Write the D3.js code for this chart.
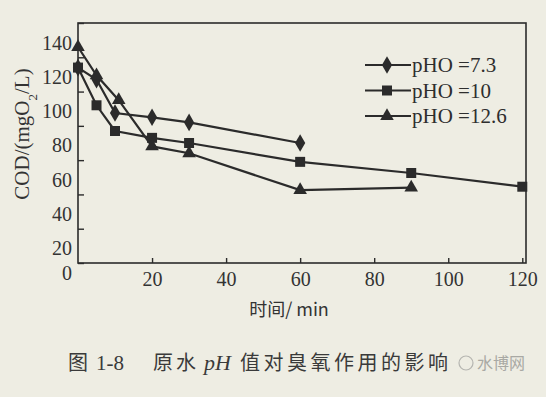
<!DOCTYPE html>
<html>
<head>
<meta charset="utf-8">
<script src="https://cdnjs.cloudflare.com/ajax/libs/d3/7.8.5/d3.min.js"></script>
<style>
  body { margin: 0; background: #eeede3; }
  svg { display: block; }
</style>
</head>
<body>
<svg id="chart" width="546" height="397"></svg>
<script>
// data
var t_73 = [0, 5, 10, 20, 30, 60];
var cod_73 = [114, 107, 87.5, 85, 82, 70];
var t_10 = [0, 5, 10, 20, 30, 60, 90, 120];
var cod_10 = [114, 92, 77, 73, 70, 59, 52.5, 44.5];
var t_126 = [0, 5, 11, 20, 30, 60, 90];
var cod_126 = [126, 109.5, 95, 68, 64, 42.5, 44];
var seriesNames = ["pHO =7.3", "pHO =10", "pHO =12.6"];
var xTicks = [20, 40, 60, 80, 100, 120];
var yTicks = [0, 20, 40, 60, 80, 100, 120, 140];

var svg = d3.select("#chart");
var ink = "#2b2b2b";

var mLeft = 78, mRight = 526, mTop = 23, mBottom = 263;

var x = d3.scaleLinear().domain([0, 121]).range([mLeft, mRight]);
var y = d3.scaleLinear().domain([0, 140]).range([mBottom, mTop]);

// frame
svg.append("rect")
  .attr("x", mLeft).attr("y", mTop)
  .attr("width", mRight - mLeft).attr("height", mBottom - mTop)
  .attr("fill", "none").attr("stroke", ink).attr("stroke-width", 1.6);

// x axis (ticks point inward)
var xAxis = svg.append("g")
  .attr("transform", "translate(0," + mBottom + ")")
  .call(d3.axisBottom(x).tickValues(xTicks).tickSizeInner(-5).tickSizeOuter(0));
xAxis.select(".domain").remove();
xAxis.selectAll("line").attr("stroke", ink).attr("stroke-width", 1.4);
xAxis.selectAll("text")
  .attr("y", 9)
  .attr("fill", "#333")
  .style("font-family", "Liberation Serif, serif")
  .style("font-size", "20px");

// y axis - labels in the print sit a bit below their ticks
var yAxis = svg.append("g")
  .attr("transform", "translate(" + mLeft + ",0)")
  .call(d3.axisLeft(y).tickValues(yTicks).tickSizeInner(-6).tickSizeOuter(0));
yAxis.select(".domain").remove();
yAxis.selectAll("line").attr("stroke", ink).attr("stroke-width", 1.4);
yAxis.selectAll("text")
  .attr("x", -6)
  .attr("dy", function(d) { return d === 0 ? "0.8em" : "1.3em"; })
  .attr("fill", "#333")
  .style("font-family", "Liberation Serif, serif")
  .style("font-size", "20px");

// axis titles
var ylab = svg.append("text")
  .attr("transform", "translate(29,134) rotate(-90)")
  .attr("text-anchor", "middle")
  .attr("fill", "#333")
  .style("font-family", "Liberation Serif, serif")
  .style("font-size", "21px");
ylab.append("tspan").text("COD/(mgO");
ylab.append("tspan").attr("baseline-shift", "sub").style("font-size", "13px").text("2");
ylab.append("tspan").text("/L)");

svg.append("text")
  .attr("x", 289).attr("y", 316)
  .attr("text-anchor", "middle")
  .attr("fill", "#333")
  .style("font-family", "Noto Sans CJK SC, Liberation Serif, serif")
  .style("font-size", "18px")
  .text("时间/ min");

// caption, spaced out like the print
var cap = svg.append("text")
  .attr("y", 370)
  .attr("fill", "#3a3a3a")
  .style("font-family", "Noto Sans CJK SC, serif")
  .style("font-size", "20px");
cap.append("tspan").attr("x", 68).text("图");
cap.append("tspan").attr("x", 96).style("font-family", "Liberation Serif, serif").style("font-size", "21px").text("1-8");
cap.append("tspan").attr("x", 153).style("letter-spacing", "3px").text("原水");
cap.append("tspan").attr("x", 204).style("font-family", "Liberation Serif, serif").style("font-style", "italic").style("font-size", "22px").text("pH");
cap.append("tspan").attr("x", 240).style("letter-spacing", "3.5px").text("值对臭氧作用的影响");

// watermark
svg.append("text")
  .attr("x", 477).attr("y", 369)
  .attr("fill", "#a9a9a4")
  .style("font-family", "Noto Sans CJK SC, sans-serif")
  .style("font-size", "16px")
  .text("水博网");
svg.append("circle").attr("cx", 466).attr("cy", 363).attr("r", 7)
  .attr("fill", "none").attr("stroke", "#b5b5b0").attr("stroke-width", 1.2);

// markers
var diamond = d3.symbol().type(d3.symbolDiamond).size(90);
var square = d3.symbol().type(d3.symbolSquare).size(100);
var triangle = d3.symbol().type(d3.symbolTriangle).size(80);

var series = [
  { t: t_73, v: cod_73, sym: diamond },
  { t: t_10, v: cod_10, sym: square },
  { t: t_126, v: cod_126, sym: triangle }
];

var line = d3.line()
  .x(function(d) { return x(d[0]); })
  .y(function(d) { return y(d[1]); });

series.forEach(function(s) {
  var pts = d3.zip(s.t, s.v);
  svg.append("path")
    .datum(pts)
    .attr("d", line)
    .attr("fill", "none")
    .attr("stroke", ink)
    .attr("stroke-width", 2.2);
  svg.append("g")
    .selectAll("path")
    .data(pts)
    .enter()
    .append("path")
    .attr("d", s.sym)
    .attr("transform", function(d) { return "translate(" + x(d[0]) + "," + y(d[1]) + ")"; })
    .attr("fill", ink);
});

// legend
var legend = svg.append("g").attr("transform", "translate(365,65)");
series.forEach(function(s, i) {
  var g = legend.append("g").attr("transform", "translate(0," + (i * 25.5) + ")");
  g.append("line").attr("x1", 0).attr("x2", 46).attr("y1", 0).attr("y2", 0)
    .attr("stroke", ink).attr("stroke-width", 2);
  g.append("path").attr("d", s.sym).attr("transform", "translate(22,0)").attr("fill", ink);
  g.append("text")
    .attr("x", 47).attr("y", 7)
    .attr("fill", "#2e2e2e")
    .style("font-family", "Liberation Serif, serif")
    .style("font-size", "21px")
    .text(seriesNames[i]);
});
</script>
</body>
</html>
